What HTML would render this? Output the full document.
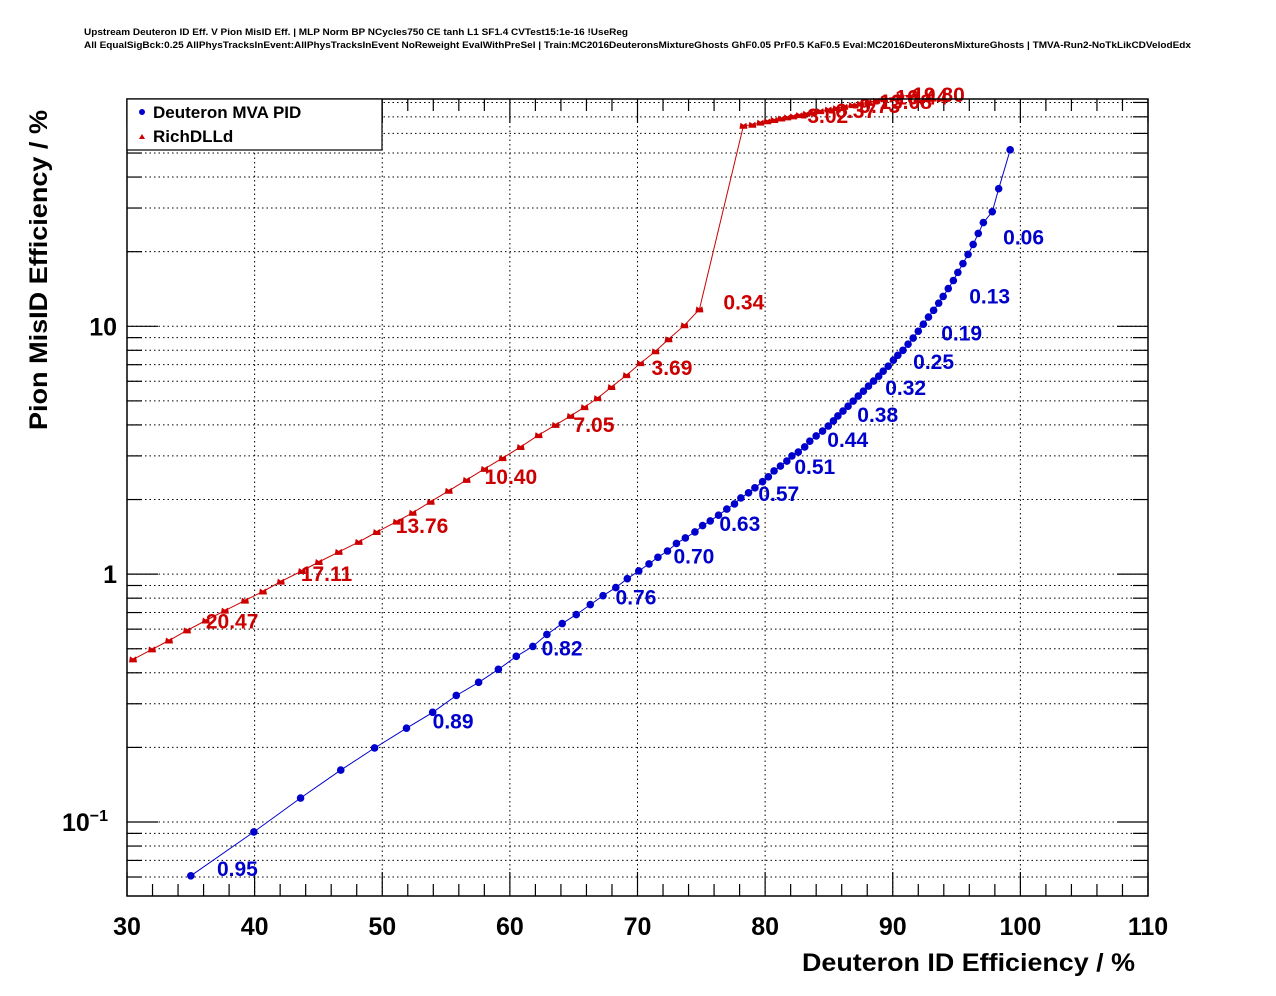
<!DOCTYPE html>
<html><head><meta charset="utf-8"><style>
html,body{margin:0;padding:0;background:#fff;}
svg{display:block;font-family:"Liberation Sans",Arial,sans-serif;}
</style></head><body>
<svg id="c" width="1276" height="996" viewBox="0 0 1276 996">
<text x="84" y="35" font-size="9" font-weight="bold" textLength="544" lengthAdjust="spacingAndGlyphs">Upstream Deuteron ID Eff. V Pion MisID Eff. | MLP Norm BP NCycles750 CE tanh L1 SF1.4 CVTest15:1e-16 !UseReg</text>
<text x="84" y="48" font-size="9" font-weight="bold" textLength="1107" lengthAdjust="spacingAndGlyphs">All EqualSigBck:0.25 AllPhysTracksInEvent:AllPhysTracksInEvent NoReweight EvalWithPreSel | Train:MC2016DeuteronsMixtureGhosts GhF0.05 PrF0.5 KaF0.5 Eval:MC2016DeuteronsMixtureGhosts | TMVA-Run2-NoTkLikCDVelodEdx</text>
<g id="grid"></g>
<g id="axes"></g>
<g id="series"></g>
<rect x="127" y="99" width="1021" height="797" fill="none" stroke="#000" stroke-width="1.5"/>
<g>
<rect x="127" y="99" width="255" height="51" fill="#fff" stroke="#000" stroke-width="1.2"/>
<circle cx="142" cy="112" r="3" fill="#0000cc"/>
<text x="153" y="118" font-size="17" font-weight="bold">Deuteron MVA PID</text>
<path d="M139,139 L145,139 L142,134 Z" fill="#cc0000"/>
<text x="153" y="142" font-size="17" font-weight="bold">RichDLLd</text>
</g>
<text x="802" y="971" font-size="25" font-weight="bold" textLength="333" lengthAdjust="spacingAndGlyphs">Deuteron ID Efficiency / %</text>
<text transform="translate(47,430) rotate(-90)" font-size="25" font-weight="bold" textLength="320" lengthAdjust="spacingAndGlyphs">Pion MisID Efficiency / %</text>
</svg>
<script>
const xTicks=[30,40,50,60,70,80,90,100,110];
const yMajor=[0.1,1,10];
const blueX=[35.0,39.94,43.6,46.75,49.4,51.9,53.95,55.8,57.55,59.1,60.5,61.8,62.9,64.1,65.2,66.3,67.3,68.3,69.2,70.1,70.9,71.6,72.35,73.05,73.75,74.5,75.1,75.7,76.35,77.0,77.6,78.1,78.7,79.2,79.8,80.25,80.7,81.2,81.7,82.1,82.6,83.1,83.5,84.0,84.5,84.95,85.35,85.7,86.1,86.5,86.9,87.3,87.7,88.1,88.5,88.9,89.25,89.65,90.05,90.4,90.8,91.2,91.6,92.0,92.4,92.8,93.2,93.6,93.95,94.35,94.75,95.1,95.5,95.9,96.3,96.7,97.1,97.8,98.3,99.2];
const blueY=[0.0607,0.0912,0.125,0.162,0.199,0.239,0.277,0.324,0.366,0.413,0.466,0.511,0.571,0.632,0.687,0.754,0.819,0.883,0.959,1.03,1.10,1.17,1.24,1.33,1.40,1.48,1.57,1.64,1.73,1.83,1.92,2.03,2.13,2.23,2.36,2.47,2.61,2.73,2.86,3.00,3.11,3.26,3.44,3.61,3.78,3.96,4.15,4.35,4.55,4.76,4.99,5.23,5.47,5.74,6.01,6.29,6.59,6.90,7.30,7.64,8.00,8.47,8.96,9.55,10.2,10.9,11.6,12.4,13.2,14.2,15.3,16.5,17.9,19.5,21.4,23.7,26.2,29.0,35.9,51.5];
const redX=[30.47,31.96,33.29,34.70,36.18,37.67,39.24,40.65,42.05,43.70,45.03,46.59,48.16,49.57,51.13,52.39,53.80,55.21,56.61,58.02,59.43,60.84,62.25,63.58,64.76,65.85,66.87,67.96,69.14,70.23,71.41,72.43,73.68,74.85,78.30,79.0,79.63,80.18,80.72,81.27,81.74,82.21,82.68,83.23,83.78,84.32,84.95,85.58,86.20,86.83,87.46,88.08,88.71,89.33,90.6,91.8];
const redY=[0.453,0.497,0.540,0.593,0.650,0.713,0.782,0.851,0.933,1.03,1.12,1.23,1.35,1.48,1.63,1.77,1.96,2.17,2.40,2.66,2.94,3.26,3.64,4.00,4.35,4.72,5.13,5.69,6.35,7.10,7.93,8.87,10.1,11.7,64.4,65.0,66.3,67.2,68.0,68.9,69.6,70.3,71.1,72.0,72.8,73.8,74.9,75.9,76.9,78.0,79.1,80.2,81.3,82.4,84.7,85.9];
const blueLabels=["0.95","0.89","0.82","0.76","0.70","0.63","0.57","0.51","0.44","0.38","0.32","0.25","0.19","0.13","0.06"];
const blueLabelX=[37.05,53.95,62.49,68.28,72.82,76.42,79.47,82.29,84.87,87.22,89.41,91.60,93.80,95.99,98.65];
const blueLabelY=[0.0653,0.257,0.506,0.811,1.19,1.61,2.13,2.73,3.51,4.42,5.69,7.23,9.46,13.3,23.0];
const redLabels=["20.47","17.11","13.76","10.40","7.05","3.69","0.34","-3.02","-6.37","-9.73","-13.08","-16.44","-19.80"];
const redLabelX=[36.18,43.62,51.06,58.02,64.99,71.10,76.73,82.76,84.95,86.83,88.40,89.65,90.98];
const redLabelY=[0.650,1.01,1.58,2.49,4.04,6.84,12.6,71.3,74.7,78.2,81.1,84.7,86.7];

const X0=127,X1=1148,Y0=99,Y1=896;
const xMin=30,xMax=110;
const lyMin=Math.log10(0.0503),lyMax=Math.log10(82.6);
const sx=v=>X0+(v-xMin)/(xMax-xMin)*(X1-X0);
const sy=v=>Y1-(Math.log10(v)-lyMin)/(lyMax-lyMin)*(Y1-Y0);
const NS='http://www.w3.org/2000/svg';
function mk(tag,parent,attrs){const e=document.createElementNS(NS,tag);for(const k in attrs)e.setAttribute(k,attrs[k]);parent.appendChild(e);return e;}
const grid=document.getElementById('grid'),axes=document.getElementById('axes'),ser=document.getElementById('series');

for(let v=xMin;v<=xMax;v+=2){
  const x=sx(v),major=(v%10===0);
  if(major&&v>xMin&&v<xMax){const g=mk('line',grid,{x1:x,x2:x,y1:Y0,y2:Y1,stroke:'#000','stroke-width':1,'stroke-dasharray':'1.5,3'});
  
  }
  const L=major?24:12;
  const t1=mk('line',axes,{x1:x,x2:x,y1:Y1,y2:Y1-L,stroke:'#000','stroke-width':1.2});
  
  
  const t2=mk('line',axes,{x1:x,x2:x,y1:Y0,y2:Y0+L,stroke:'#000','stroke-width':1.2});
  
  
}
xTicks.forEach(v=>{const t=mk('text',axes,{x:sx(v),y:935,'font-size':25,'font-weight':'bold','text-anchor':'middle'});t.textContent=v;
  
  });
for(let d=-2;d<=1;d++){for(let m=1;m<=9;m++){
  const v=m*Math.pow(10,d);if(v<0.0503||v>82.6)continue;
  const y=sy(v),major=(m===1);
  const g=mk('line',grid,{x1:X0,x2:X1,y1:y,y2:y,stroke:'#000','stroke-width':1,'stroke-dasharray':'1.5,3'});
  
  
  const L=major?31:15;
  const t1=mk('line',axes,{x1:X0,x2:X0+L,y1:y,y2:y,stroke:'#000','stroke-width':1.2});
  
  
  const t2=mk('line',axes,{x1:X1,x2:X1-L,y1:y,y2:y,stroke:'#000','stroke-width':1.2});
  
  
}}
yMajor.forEach(v=>{const y=sy(v);const t=mk('text',axes,{x:v<1?108:117,y:y+9,'font-size':25,'font-weight':'bold','text-anchor':'end'});
  if(v<1){t.textContent='10';const s=mk('tspan',t,{dy:-10,'font-size':16});s.textContent='\u22121';}else t.textContent=String(v);
  
  });

function series(xs,ys,color,kind,name){
  const g=mk('g',ser,{});
  
  
  const pts=xs.map((x,i)=>sx(x).toFixed(1)+','+sy(ys[i]).toFixed(1)).join(' ');
  const pl=mk('polyline',g,{points:pts,fill:'none',stroke:color,'stroke-width':1});
  
  
  xs.forEach((x,i)=>{const cx=sx(x),cy=sy(ys[i]);let m;
    if(kind==='circle')m=mk('circle',g,{cx:cx,cy:cy,r:3.8,fill:color});
    else m=mk('path',g,{d:`M${cx-4},${cy+3} L${cx+4},${cy+3} L${cx+3},${cy-3} L${cx},${cy-1} L${cx-3},${cy-3} Z`,fill:color});
    
    });
}
series(redX,redY,'#cc0000','tri','richdlld-series');
series(blueX,blueY,'#0000cc','circle','mva-series');
function labels(txt,xs,ys,color,name){txt.forEach((s,i)=>{const t=mk('text',ser,{x:sx(xs[i]),y:sy(ys[i])+8,'font-size':21,'font-weight':'bold',fill:color});t.textContent=s;
  
  });}
labels(blueLabels,blueLabelX,blueLabelY,'#0000cc','mva-cut-label');
labels(redLabels,redLabelX,redLabelY,'#cc0000','richdlld-cut-label');
</script>
</body></html>
